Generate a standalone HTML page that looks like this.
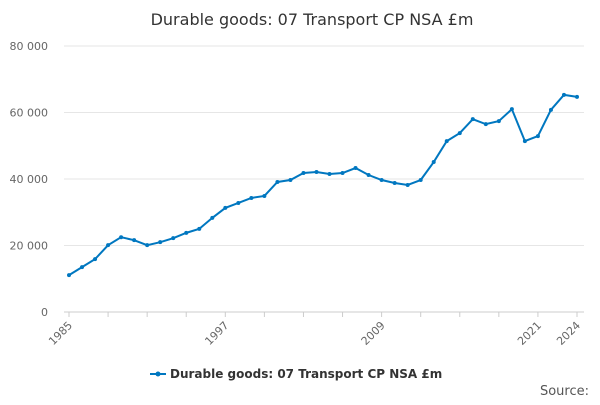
<!DOCTYPE html>
<html><head><meta charset="utf-8"><style>
body{margin:0;background:#fff;font-family:"Liberation Sans","DejaVu Sans",sans-serif}
svg text{font-family:"DejaVu Sans","Liberation Sans",sans-serif}
</style></head><body>
<svg width="600" height="400" xmlns="http://www.w3.org/2000/svg">
<text x="312" y="25" text-anchor="middle" font-size="16" fill="#333">Durable goods: 07 Transport CP NSA £m</text>
<g id="grid"></g><g id="xaxis"></g><g id="series"></g>
<g>
<line x1="150" y1="374" x2="166" y2="374" stroke="#0077c0" stroke-width="2"/>
<circle cx="158" cy="374" r="2.5" fill="#0077c0"/>
<text x="170" y="378" font-size="12" font-weight="bold" fill="#333">Durable goods: 07 Transport CP NSA £m</text>
</g>
<text x="589" y="395" text-anchor="end" font-size="13" fill="#555">Source:</text>
</svg>
<script>
const startYear = 1985;
const values = [11100,13500,15900,20100,22500,21600,20100,21000,22200,23800,25000,28300,31300,32800,34300,34900,39100,39700,41800,42100,41500,41800,43300,41200,39700,38800,38200,39700,45100,51400,53800,58000,56500,57400,61000,51400,52900,60800,65300,64700];
const yTicks = [0,20000,40000,60000,80000];
const xLabels = [1985,1997,2009,2021,2024];
const NS="http://www.w3.org/2000/svg";
const x0=69,x1=577,yb=312,yt=46;
const X=y=>x0+(y-startYear)*(x1-x0)/(values.length-1);
const Y=v=>yb-(v/80000)*(yb-yt);
function mk(tag,attrs,parent){const e=document.createElementNS(NS,tag);for(const k in attrs)e.setAttribute(k,attrs[k]);parent.appendChild(e);return e;}
const grid=document.getElementById('grid');
yTicks.forEach(t=>{
 const l=mk('line',{x1:64,x2:584,y1:Y(t),y2:Y(t),stroke:t===0?'#ccc':'#e6e6e6'},grid);
 
 
 const tx=mk('text',{x:48,y:Y(t)+4,'text-anchor':'end','font-size':11,fill:'#666'},grid);
 tx.textContent=t===0?'0':(t/1000)+' 000';
 
 
});
const xa=document.getElementById('xaxis');
for(let yr=startYear;yr<=2024;yr+=3){
 const tk=mk('line',{x1:X(yr),x2:X(yr),y1:yb,y2:yb+5,stroke:'#ccc'},xa);
 
 
}
xLabels.forEach(yr=>{
 const t=mk('text',{x:X(yr)+4,y:yb+14,'text-anchor':'end','font-size':11,fill:'#666',transform:`rotate(-45 ${X(yr)+4} ${yb+14})`},xa);
 t.textContent=yr;
 
 
});
const s=document.getElementById('series');
const p=mk('polyline',{points:values.map((v,i)=>X(startYear+i)+','+Y(v)).join(' '),fill:'none',stroke:'#0077c0','stroke-width':2},s);


values.forEach((v,i)=>{
 const c=mk('circle',{cx:X(startYear+i),cy:Y(v),r:2,fill:'#0077c0'},s);
 
 
});
</script>
</body></html>
